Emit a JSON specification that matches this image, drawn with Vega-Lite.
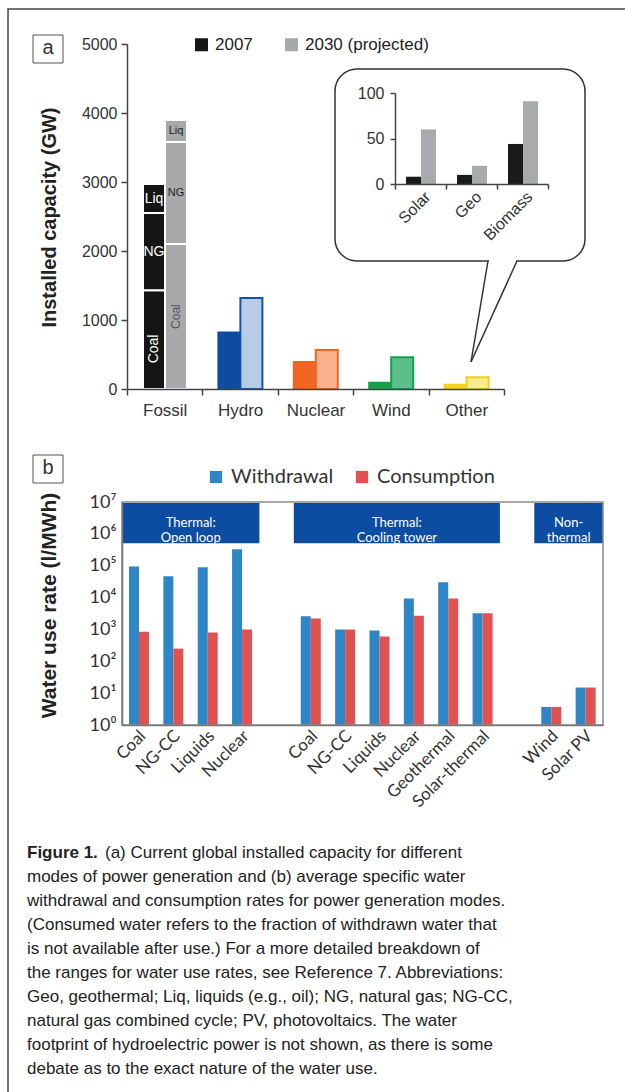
{
  "$schema": "https://vega.github.io/schema/vega-lite/v6.json",
  "width": 625,
  "height": 1092,
  "autosize": "none",
  "padding": 0,
  "background": "white",
  "config": {
    "view": {"stroke": null},
    "font": "Liberation Sans",
    "axis": {"labelFont": "Liberation Sans", "titleFont": "Liberation Sans", "grid": false},
    "legend": {"labelFont": "Liberation Sans", "padding": 0}
  },
  "resolve": {
    "scale": {"x": "independent", "y": "independent", "xOffset": "independent", "fill": "independent", "stroke": "independent"},
    "axis": {"x": "independent", "y": "independent"}
  },
  "layer": [
    {
      "data": {"values": [{}]},
      "mark": {"type": "rect", "filled": false, "color": "#444", "strokeWidth": 1.5},
      "encoding": {"x": {"value": 8}, "x2": {"value": 800}, "y": {"value": 9}, "y2": {"value": 1300}}
    },
    {
      "data": {"values": [{}]},
      "mark": {"type": "rect", "fill": "white", "stroke": "#333", "strokeWidth": 1.5, "cornerRadius": 22},
      "encoding": {"x": {"value": 335}, "x2": {"value": 585}, "y": {"value": 69}, "y2": {"value": 261}}
    },
    {
      "data": {"values": [{}]},
      "mark": {"type": "rule", "stroke": "white", "strokeWidth": 3},
      "encoding": {"x": {"value": 489}, "x2": {"value": 516}, "y": {"value": 261}, "y2": {"value": 261}}
    },
    {
      "data": {"values": [{}]},
      "mark": {"type": "rule", "stroke": "#333", "strokeWidth": 1.5},
      "encoding": {"x": {"value": 488}, "y": {"value": 261}, "x2": {"value": 471}, "y2": {"value": 362}}
    },
    {
      "data": {"values": [{}]},
      "mark": {"type": "rule", "stroke": "#333", "strokeWidth": 1.5},
      "encoding": {"x": {"value": 517}, "y": {"value": 261}, "x2": {"value": 471}, "y2": {"value": 362}}
    },
    {
      "data": {"values": [{}]},
      "mark": {"type": "rect", "filled": false, "color": "#555", "strokeWidth": 1},
      "encoding": {"x": {"value": 33}, "x2": {"value": 63}, "y": {"value": 35}, "y2": {"value": 63}}
    },
    {
      "data": {"values": [{}]},
      "mark": {"type": "text", "text": "a", "fontSize": 20, "color": "#333", "align": "center", "baseline": "middle"},
      "encoding": {"x": {"value": 48}, "y": {"value": 48}}
    },
    {
      "data": {"values": [{}]},
      "mark": {"type": "rect", "filled": false, "color": "#555", "strokeWidth": 1},
      "encoding": {"x": {"value": 33}, "x2": {"value": 63}, "y": {"value": 455}, "y2": {"value": 483}}
    },
    {
      "data": {"values": [{}]},
      "mark": {"type": "text", "text": "b", "fontSize": 20, "color": "#333", "align": "center", "baseline": "middle"},
      "encoding": {"x": {"value": 48}, "y": {"value": 468}}
    },
    {
      "data": {
        "values": [
          {"cat": "Fossil", "year": "2007", "seg": "Coal", "y0": 0, "y1": 1430},
          {"cat": "Fossil", "year": "2007", "seg": "NG", "y0": 1430, "y1": 2550},
          {"cat": "Fossil", "year": "2007", "seg": "Liq", "y0": 2550, "y1": 2970},
          {"cat": "Fossil", "year": "2030", "seg": "Coal", "y0": 0, "y1": 2100},
          {"cat": "Fossil", "year": "2030", "seg": "NG", "y0": 2100, "y1": 3580},
          {"cat": "Fossil", "year": "2030", "seg": "Liq", "y0": 3580, "y1": 3900},
          {"cat": "Hydro", "year": "2007", "seg": "Hydro", "y0": 0, "y1": 820},
          {"cat": "Hydro", "year": "2030", "seg": "Hydro", "y0": 0, "y1": 1320},
          {"cat": "Nuclear", "year": "2007", "seg": "Nuclear", "y0": 0, "y1": 390},
          {"cat": "Nuclear", "year": "2030", "seg": "Nuclear", "y0": 0, "y1": 565},
          {"cat": "Wind", "year": "2007", "seg": "Wind", "y0": 0, "y1": 90},
          {"cat": "Wind", "year": "2030", "seg": "Wind", "y0": 0, "y1": 460},
          {"cat": "Other", "year": "2007", "seg": "Other", "y0": 0, "y1": 61},
          {"cat": "Other", "year": "2030", "seg": "Other", "y0": 0, "y1": 172}
        ]
      },
      "transform": [
        {"calculate": "datum.cat + ' ' + datum.year", "as": "key"},
        {"calculate": "(datum.y0 + datum.y1) / 2", "as": "mid"}
      ],
      "encoding": {
        "x": {
          "field": "cat", "type": "nominal", "sort": ["Fossil", "Hydro", "Nuclear", "Wind", "Other"],
          "scale": {"range": [127, 504], "paddingInner": 0, "paddingOuter": 0},
          "axis": {"orient": "bottom", "offset": -703, "title": null, "labelAngle": 0, "labelFontSize": 17, "labelColor": "#333", "labelPadding": 7, "tickBand": "extent", "tickSize": 6, "domainColor": "#444", "tickColor": "#444", "domainWidth": 1.5, "tickWidth": 1.5, "zindex": 1}
        },
        "xOffset": {"field": "year", "type": "nominal", "scale": {"domain": ["2007", "2030"], "range": [16, 60], "paddingInner": 0, "paddingOuter": 0}}
      },
      "layer": [
        {
          "mark": {"type": "bar", "strokeWidth": 2},
          "encoding": {
            "y": {
              "field": "y1", "type": "quantitative",
              "scale": {"domain": [0, 5000], "range": [389, 44], "nice": false, "zero": false},
              "axis": {"orient": "left", "offset": -127, "values": [0, 1000, 2000, 3000, 4000, 5000], "format": "d", "title": "Installed capacity  (GW)", "titleFontSize": 20, "titleFontWeight": "bold", "titleColor": "#222", "titleX": -72, "titleY": 217, "titleAlign": "center", "titleBaseline": "alphabetic", "titleAngle": 270, "labelFontSize": 16, "labelColor": "#333", "labelPadding": 4, "tickSize": 6, "domainColor": "#444", "tickColor": "#444", "domainWidth": 1.5, "tickWidth": 1.5, "zindex": 1}
            },
            "y2": {"field": "y0"},
            "fill": {
              "field": "key", "type": "nominal",
              "scale": {
                "domain": ["Fossil 2007", "Fossil 2030", "Hydro 2007", "Hydro 2030", "Nuclear 2007", "Nuclear 2030", "Wind 2007", "Wind 2030", "Other 2007", "Other 2030"],
                "range": ["#151515", "#a7a9ac", "#0d4c9e", "#b8cce8", "#f06522", "#f8b18b", "#17a04b", "#5abf8b", "#f1d11a", "#f8ea8f"]
              },
              "legend": {"orient": "none", "legendX": 193, "legendY": 36, "direction": "horizontal", "title": null, "values": ["Fossil 2007", "Fossil 2030"], "labelExpr": "datum.value == 'Fossil 2007' ? '2007' : '2030 (projected)'", "symbolType": "square", "symbolSize": 169, "symbolStrokeWidth": 0, "labelFontSize": 17, "labelColor": "#222", "labelOffset": 5, "columnPadding": 30}
            },
            "stroke": {
              "field": "key", "type": "nominal",
              "scale": {
                "domain": ["Fossil 2007", "Fossil 2030", "Hydro 2007", "Hydro 2030", "Nuclear 2007", "Nuclear 2030", "Wind 2007", "Wind 2030", "Other 2007", "Other 2030"],
                "range": ["#ffffff", "#ffffff", "#0d4c9e", "#1552aa", "#f06522", "#f06522", "#17a04b", "#17a04b", "#f1d11a", "#ecd21a"]
              },
              "legend": null
            }
          }
        },
        {
          "transform": [{"filter": "datum.cat == 'Fossil' && datum.year == '2007' && datum.seg != 'Coal'"}],
          "mark": {"type": "text", "color": "white", "fontSize": 14, "baseline": "middle"},
          "encoding": {"y": {"field": "mid", "type": "quantitative"}, "text": {"field": "seg"}}
        },
        {
          "transform": [{"filter": "datum.cat == 'Fossil' && datum.year == '2007' && datum.seg == 'Coal'"}],
          "mark": {"type": "text", "color": "white", "fontSize": 14, "baseline": "middle", "angle": 270},
          "encoding": {"y": {"datum": 580}, "text": {"field": "seg"}}
        },
        {
          "transform": [{"filter": "datum.cat == 'Fossil' && datum.year == '2030' && datum.seg != 'Coal'"}],
          "mark": {"type": "text", "color": "#222", "fontSize": 11, "baseline": "middle"},
          "encoding": {"y": {"field": "mid", "type": "quantitative"}, "text": {"field": "seg"}}
        },
        {
          "transform": [{"filter": "datum.cat == 'Fossil' && datum.year == '2030' && datum.seg == 'Coal'"}],
          "mark": {"type": "text", "color": "#555", "fontSize": 12, "baseline": "middle", "angle": 270},
          "encoding": {"y": {"field": "mid", "type": "quantitative"}, "text": {"field": "seg"}}
        }
      ]
    },
    {
      "data": {
        "values": [
          {"src": "Solar", "year": "2007", "gw": 8},
          {"src": "Solar", "year": "2030", "gw": 60},
          {"src": "Geo", "year": "2007", "gw": 10},
          {"src": "Geo", "year": "2030", "gw": 20},
          {"src": "Biomass", "year": "2007", "gw": 44},
          {"src": "Biomass", "year": "2030", "gw": 91}
        ]
      },
      "mark": {"type": "bar"},
      "encoding": {
        "x": {
          "field": "src", "type": "nominal", "sort": ["Solar", "Geo", "Biomass"],
          "scale": {"range": [395, 548], "paddingInner": 0, "paddingOuter": 0},
          "axis": {"orient": "bottom", "offset": -908, "title": null, "labelAngle": -45, "labelAlign": "right", "labelBaseline": "middle", "labelFontSize": 16, "labelColor": "#333", "labelPadding": 5, "labelOffset": 7, "tickBand": "extent", "tickSize": 5, "domainColor": "#444", "tickColor": "#444", "domainWidth": 1.5, "tickWidth": 1.5, "zindex": 1}
        },
        "xOffset": {"field": "year", "type": "nominal", "scale": {"domain": ["2007", "2030"], "range": [11, 41], "paddingInner": 0, "paddingOuter": 0}},
        "y": {
          "field": "gw", "type": "quantitative",
          "scale": {"domain": [0, 100], "range": [184, 93], "nice": false, "zero": false},
          "axis": {"orient": "left", "offset": -395, "values": [0, 50, 100], "title": null, "labelFontSize": 16, "labelColor": "#333", "labelPadding": 6, "tickSize": 5, "domainColor": "#444", "tickColor": "#444", "domainWidth": 1.5, "tickWidth": 1.5, "zindex": 1}
        },
        "fill": {"field": "year", "type": "nominal", "scale": {"domain": ["2007", "2030"], "range": ["#1a1a1a", "#a8aaad"]}, "legend": null}
      }
    },
    {
      "layer": [
        {
          "data": {
            "values": [
              {"label": "Thermal:\nOpen loop", "first": "OL|Coal", "last": "OL|Nuclear", "mid": "OL|Liquids"},
              {"label": "Thermal:\nCooling tower", "first": "CT|Coal", "last": "CT|Solar-thermal", "mid": "CT|Nuclear"},
              {"label": "Non-\nthermal", "first": "NT|Wind", "last": "NT|Solar PV", "mid": "NT|Solar PV"}
            ]
          },
          "layer": [
            {
              "mark": {"type": "rect", "color": "#0c4da2"},
              "encoding": {
                "x": {"field": "first", "type": "nominal", "bandPosition": 0},
                "x2": {"field": "last", "bandPosition": 1},
                "y": {"datum": 9300000, "type": "quantitative"},
                "y2": {"datum": 510000}
              }
            },
            {
              "mark": {"type": "text", "color": "white", "fontSize": 13, "font": "Lato", "lineBreak": "\n", "lineHeight": 15, "baseline": "middle", "align": "center"},
              "encoding": {
                "x": {"field": "mid", "type": "nominal", "bandPosition": 0},
                "y": {"datum": 2200000, "type": "quantitative"},
                "text": {"field": "label"}
              }
            }
          ]
        },
        {
          "data": {
            "values": [
              {"mode": "OL", "tech": "Coal", "series": "Withdrawal", "rate": 95000},
              {"mode": "OL", "tech": "Coal", "series": "Consumption", "rate": 850},
              {"mode": "OL", "tech": "NG-CC", "series": "Withdrawal", "rate": 47000},
              {"mode": "OL", "tech": "NG-CC", "series": "Consumption", "rate": 250},
              {"mode": "OL", "tech": "Liquids", "series": "Withdrawal", "rate": 89000},
              {"mode": "OL", "tech": "Liquids", "series": "Consumption", "rate": 800},
              {"mode": "OL", "tech": "Nuclear", "series": "Withdrawal", "rate": 330000},
              {"mode": "OL", "tech": "Nuclear", "series": "Consumption", "rate": 1000},
              {"mode": "CT", "tech": "Coal", "series": "Withdrawal", "rate": 2600},
              {"mode": "CT", "tech": "Coal", "series": "Consumption", "rate": 2200},
              {"mode": "CT", "tech": "NG-CC", "series": "Withdrawal", "rate": 1000},
              {"mode": "CT", "tech": "NG-CC", "series": "Consumption", "rate": 1000},
              {"mode": "CT", "tech": "Liquids", "series": "Withdrawal", "rate": 930},
              {"mode": "CT", "tech": "Liquids", "series": "Consumption", "rate": 600},
              {"mode": "CT", "tech": "Nuclear", "series": "Withdrawal", "rate": 9400},
              {"mode": "CT", "tech": "Nuclear", "series": "Consumption", "rate": 2700},
              {"mode": "CT", "tech": "Geothermal", "series": "Withdrawal", "rate": 30000},
              {"mode": "CT", "tech": "Geothermal", "series": "Consumption", "rate": 9400},
              {"mode": "CT", "tech": "Solar-thermal", "series": "Withdrawal", "rate": 3200},
              {"mode": "CT", "tech": "Solar-thermal", "series": "Consumption", "rate": 3200},
              {"mode": "NT", "tech": "Wind", "series": "Withdrawal", "rate": 3.7},
              {"mode": "NT", "tech": "Wind", "series": "Consumption", "rate": 3.7},
              {"mode": "NT", "tech": "Solar PV", "series": "Withdrawal", "rate": 15},
              {"mode": "NT", "tech": "Solar PV", "series": "Consumption", "rate": 15}
            ]
          },
          "transform": [{"calculate": "datum.mode + '|' + datum.tech", "as": "slot"}],
          "mark": {"type": "bar"},
          "encoding": {
            "x": {
              "field": "slot", "type": "nominal",
              "scale": {"domain": ["OL|Coal", "OL|NG-CC", "OL|Liquids", "OL|Nuclear", "gap1", "CT|Coal", "CT|NG-CC", "CT|Liquids", "CT|Nuclear", "CT|Geothermal", "CT|Solar-thermal", "gap2", "NT|Wind", "NT|Solar PV"], "range": [122, 603], "paddingInner": 0, "paddingOuter": 0},
              "axis": {"orient": "bottom", "offset": -367, "title": null, "labelExpr": "indexof(datum.label, '|') >= 0 ? split(datum.label, '|')[1] : ''", "labelAngle": -45, "labelAlign": "right", "labelBaseline": "middle", "labelFont": "Lato", "labelFontSize": 17, "labelColor": "#333", "labelPadding": 8, "labelOffset": 4, "ticks": false, "domainColor": "#777", "domainWidth": 1.5, "zindex": 1}
            },
            "xOffset": {"field": "series", "type": "nominal", "scale": {"domain": ["Withdrawal", "Consumption"], "range": [7, 27], "paddingInner": 0, "paddingOuter": 0}},
            "y": {
              "field": "rate", "type": "quantitative",
              "scale": {"type": "log", "domain": [1, 10000000], "range": [725, 502], "nice": false},
              "axis": {"orient": "left", "offset": -122, "values": [1, 10, 100, 1000, 10000, 100000, 1000000, 10000000], "labelExpr": "'10' + ['⁰','¹','²','³','⁴','⁵','⁶','⁷'][round(log(datum.value) / LN10)]", "labelFont": "Lato", "labelFontSize": 18, "labelColor": "#333", "labelPadding": 6, "ticks": false, "domainColor": "#777", "domainWidth": 1.5, "title": "Water use rate (l/MWh)", "titleFontSize": 21, "titleFontWeight": "bold", "titleColor": "#222", "titleX": -67, "titleY": 605, "titleAlign": "center", "titleBaseline": "alphabetic", "titleAngle": 270, "zindex": 1}
            },
            "y2": {"datum": 1},
            "fill": {
              "field": "series", "type": "nominal",
              "scale": {"domain": ["Withdrawal", "Consumption"], "range": ["#2f86c7", "#e05252"]},
              "legend": {"orient": "none", "legendX": 206, "legendY": 467, "direction": "horizontal", "title": null, "symbolType": "square", "symbolSize": 150, "symbolStrokeWidth": 0, "labelFont": "Lato", "labelFontSize": 20, "labelColor": "#333", "labelOffset": 5, "columnPadding": 18}
            }
          }
        }
      ]
    },
    {
      "data": {"values": [{}]},
      "mark": {"type": "rect", "filled": false, "color": "#8a8a8a", "strokeWidth": 1.5},
      "encoding": {"x": {"value": 122}, "x2": {"value": 603}, "y": {"value": 502}, "y2": {"value": 725}}
    },
    {
      "data": {"values": [{}]},
      "mark": {"type": "text", "text": "Figure 1.", "fontSize": 17, "fontWeight": "bold", "color": "#222", "align": "left", "baseline": "alphabetic"},
      "encoding": {"x": {"value": 27}, "y": {"value": 858}}
    },
    {
      "data": {"values": [{}]},
      "mark": {"type": "text", "text": "(a) Current global installed capacity for different", "fontSize": 17, "color": "#222", "align": "left", "baseline": "alphabetic"},
      "encoding": {"x": {"value": 105}, "y": {"value": 858}}
    },
    {
      "data": {"values": [{}]},
      "mark": {
        "type": "text",
        "text": [
          "modes of power generation and (b) average specific water",
          "withdrawal and consumption rates for power generation modes.",
          "(Consumed water refers to the fraction of withdrawn water that",
          "is not available after use.) For a more detailed breakdown of",
          "the ranges for water use rates, see Reference 7. Abbreviations:",
          "Geo, geothermal; Liq, liquids (e.g., oil); NG, natural gas; NG-CC,",
          "natural gas combined cycle; PV, photovoltaics. The water",
          "footprint of hydroelectric power is not shown, as there is some",
          "debate as to the exact nature of the water use."
        ],
        "fontSize": 17, "lineHeight": 24, "color": "#222", "align": "left", "baseline": "alphabetic"
      },
      "encoding": {"x": {"value": 27}, "y": {"value": 882}}
    }
  ]
}
